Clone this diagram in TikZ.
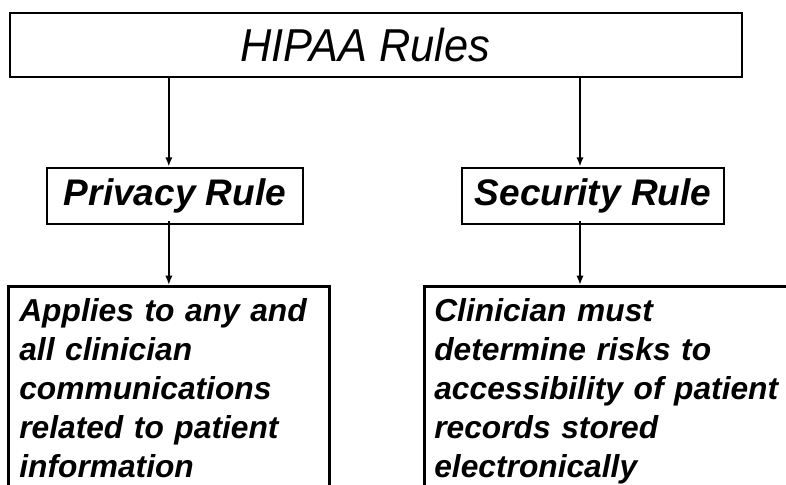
\documentclass[tikz,border=0pt]{standalone}
\usepackage{fontspec}
\setmainfont{Liberation Sans}
\usetikzlibrary{arrows.meta}
\tikzstyle{rulebox} = [draw, line width=2pt, rectangle, inner sep=0pt]
\tikzstyle{titlebox} = [rulebox, minimum width=549pt, minimum height=48pt,
    font=\fontsize{34.6}{38}\selectfont\itshape]
\tikzstyle{kindbox} = [rulebox, minimum height=42pt,
    font=\fontsize{27.75}{32}\selectfont\bfseries\itshape]
\tikzstyle{textbox} = [rulebox, anchor=north west, align=left,
    inner ysep=9pt, text depth=200pt,
    font=\fontsize{23.8}{29.25}\selectfont\bfseries\itshape]
\tikzstyle{link} = [->, line width=1.4pt]

\begin{document}
\begin{tikzpicture}[x=0.75pt, y=-0.75pt, >={Latex[length=7pt,width=5.5pt]}]
	\useasboundingbox (0,0) rectangle (786,485);
	\clip (0,0) rectangle (786,485);

	% Top box
	\node [titlebox] (hipaa) at (376,45) {\scalebox{0.94}[1]{HIPAA Rules}\kern16pt};

	% The two rules
	\node [kindbox, minimum width=192pt] (privacy) at (175,196) {Privacy Rule};
	\node [kindbox, minimum width=196.5pt] (security) at (593,196) {Security Rule};

	% What each rule asks for
	\node [textbox, inner xsep=8.25pt, text width=224.25pt] (applies) at (7,285)
		{Applies to any and\\all clinician\\communications\\related to patient\\information};
	\node [textbox, inner xsep=7.5pt, text width=300pt] (clinician) at (423,285)
		{Clinician must\\determine risks to\\accessibility of patient\\records stored\\electronically};
	\coordinate (secx) at (580,0);

	% Connections
	\draw [link] (applies.north |- hipaa.south) -- (applies.north |- privacy.north);
	\draw [link] (hipaa.south -| secx) -- (security.north -| secx);
	\draw [link] ([yshift=3pt]applies.north |- privacy.south) -- (applies.north);
	\draw [link] ([yshift=3pt]security.south -| secx) -- (clinician.north -| secx);
\end{tikzpicture}
\end{document}
